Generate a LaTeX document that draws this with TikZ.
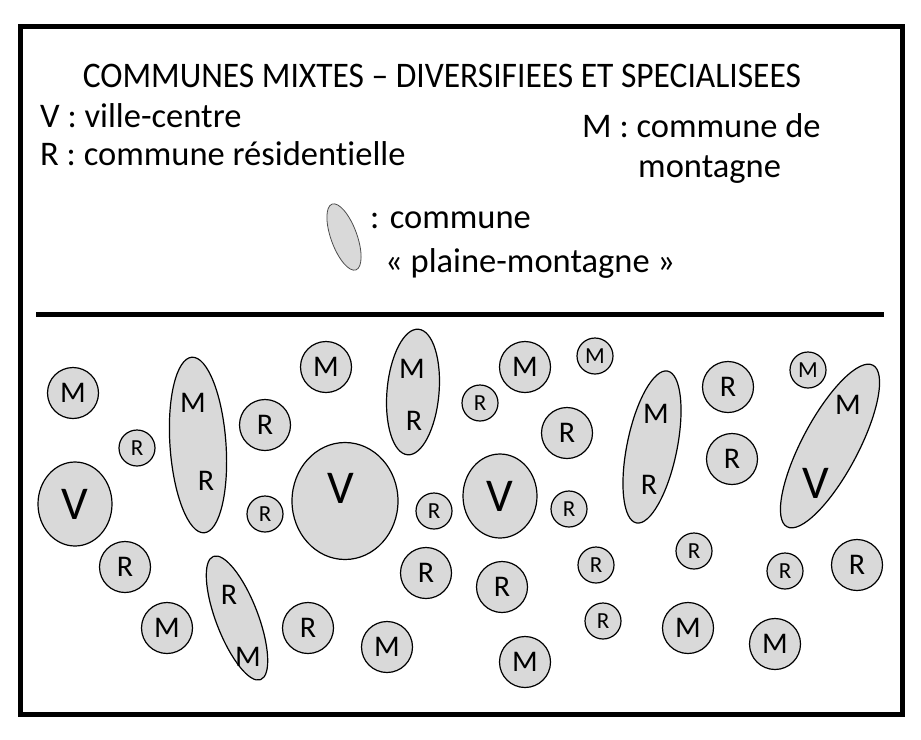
\documentclass[tikz,border=0pt]{standalone}
\usepackage{fontspec}
\setmainfont{Carlito}[Ligatures=NoCommon]
\newfontfamily\titrefont{Carlito}[FakeStretch=0.93]
\usetikzlibrary{shapes.geometric}

\begin{document}
\begin{tikzpicture}[x=1pt, y=-1pt,
    commune/.style={circle, draw, line width=1.2pt, fill=black!15, inner sep=0pt},
    grand/.style={commune, minimum size=51pt, font=\fontsize{30}{36}\selectfont},
    petit/.style={commune, minimum size=36pt, font=\fontsize{23}{28}\selectfont},
    ville/.style={ellipse, draw, line width=1.2pt, fill=black!15, inner sep=0pt, font=\fontsize{47}{54}\selectfont},
    mixte/.style={ellipse, draw, line width=1.2pt, fill=black!15, inner sep=0pt},
    lettre/.style={inner sep=0pt, font=\fontsize{30}{36}\selectfont},
    legende/.style={inner sep=0pt, anchor=base west, font=\fontsize{34.5}{40}\selectfont}]
    \useasboundingbox (0,0) rectangle (921,739);

    % Frame and divider
    \draw[line width=5pt] (20,26) rectangle (902,714);
    \draw[line width=5pt] (36,314) -- (884,314);

    % Legend
    \node[legende, anchor=base, font=\titrefont\fontsize{36}{40}\selectfont] (titre) at (442,87) {COMMUNES MIXTES – DIVERSIFIEES ET SPECIALISEES};
    \node[legende] (legv) at (40,127) {V : ville-centre};
    \node[legende] (legr) at (40,165) {R : commune résidentielle};
    \node[legende] (legm) at (582,137) {M : commune de};
    \node[legende] (legm2) at (638,177) {montagne};
    \node[mixte, draw=black!70, line width=0.8pt, minimum width=26pt, minimum height=70pt, rotate=20] (legell) at (344,237) {};
    \node[legende] (legpm) at (370,228) {: commune};
    \node[legende] (legpm2) at (385,272) {« plaine-montagne »};

    % Villes-centres
    \node[ville, minimum width=74pt, minimum height=84pt] (v1) at (75,504) {V};
    \node[ville, minimum width=106pt, minimum height=117pt] (v2) at (345,501) {};
    \node[lettre, font=\fontsize{47}{54}\selectfont] (v2lab) at (341,488) {V};
    \node[ville, minimum width=74pt, minimum height=84pt] (v3) at (500,496) {V};

    % Communes plaine-montagne
    \node[mixte, minimum width=56pt, minimum height=176pt, rotate=4] (pm1) at (198,445) {};
    \node[lettre] (pm1m) at (193,403) {M};
    \node[lettre] (pm1r) at (206,481) {R};
    \node[mixte, minimum width=52pt, minimum height=126pt, rotate=-5] (pm2) at (413,392) {};
    \node[lettre] (pm2m) at (412,369) {M};
    \node[lettre] (pm2r) at (414,421) {R};
    \node[mixte, minimum width=42pt, minimum height=132pt, rotate=21] (pm3) at (237,618) {};
    \node[lettre] (pm3r) at (229,595) {R};
    \node[lettre] (pm3m) at (248,657) {M};
    \node[mixte, minimum width=50pt, minimum height=155pt, rotate=-11.6] (pm4) at (652,447) {};
    \node[lettre] (pm4m) at (656,414) {M};
    \node[lettre] (pm4r) at (649,485) {R};
    \node[mixte, minimum width=56pt, minimum height=183pt, rotate=-28] (pm5) at (830,446) {};
    \node[lettre] (pm5m) at (848,405) {M};
    \node[lettre, font=\fontsize{47}{54}\selectfont] (pm5v) at (816,483) {V};

    % Communes de montagne
    \node[grand] (m1) at (73,393) {M};
    \node[grand] (m2) at (326,367) {M};
    \node[grand] (m3) at (167,628) {M};
    \node[grand] (m4) at (387,647) {M};
    \node[grand] (m5) at (525,367) {M};
    \node[grand] (m6) at (688,628) {M};
    \node[grand] (m7) at (775,644) {M};
    \node[grand] (m8) at (525,662) {M};
    \node[petit] (m9) at (595,356) {M};
    \node[petit] (m10) at (808,370) {M};

    % Communes residentielles
    \node[grand] (r1) at (265,425) {R};
    \node[grand] (r2) at (125,567) {R};
    \node[grand] (r3) at (308,628) {R};
    \node[grand] (r4) at (426,573) {R};
    \node[grand] (r5) at (567,433) {R};
    \node[grand] (r6) at (728,387) {R};
    \node[grand] (r7) at (732,459) {R};
    \node[grand] (r8) at (857,565) {R};
    \node[grand] (r9) at (502,587) {R};
    \node[petit] (r10) at (137,448) {R};
    \node[petit] (r11) at (265,514) {R};
    \node[petit] (r12) at (434,511) {R};
    \node[petit] (r13) at (480,403) {R};
    \node[petit] (r14) at (569,509) {R};
    \node[petit] (r15) at (694,551) {R};
    \node[petit] (r16) at (596,565) {R};
    \node[petit] (r17) at (785,571) {R};
    \node[petit] (r18) at (603,621) {R};
\end{tikzpicture}
\end{document}
